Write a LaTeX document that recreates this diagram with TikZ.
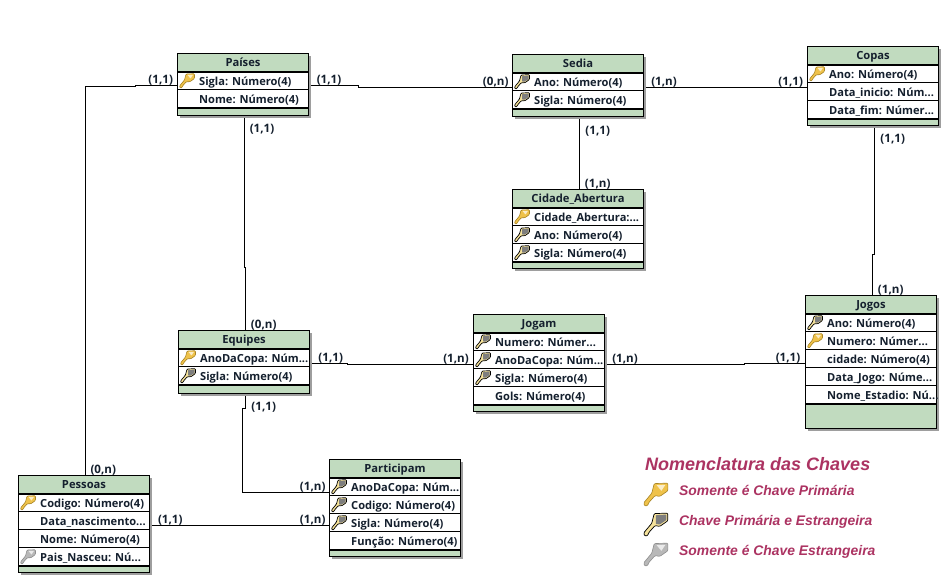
\documentclass[tikz,border=0pt]{standalone}
\usepackage{fontspec}
\setmainfont{Open Sans}
\newfontfamily\legfont{Liberation Sans}
\newcommand\dd{.\kern0pt.\kern0pt.}
\definecolor{hdrgreen}{HTML}{C1DBBF}
\definecolor{inkc}{HTML}{15202E}
\definecolor{legc}{HTML}{AC3362}
\definecolor{goldf}{HTML}{EFC24A}
\definecolor{goldp}{HTML}{F5E29A}
\definecolor{goldl}{HTML}{A88424}
\definecolor{grayf}{HTML}{B8B8B8}
\definecolor{grayl}{HTML}{8E8E8E}
\definecolor{midg}{HTML}{7E7E7E}
\tikzset{
  tablebox/.style={draw=black,line width=1pt,fill=hdrgreen,inner sep=0pt,outer sep=0pt,anchor=north west},
  shadowbox/.style={fill=midg!75,draw=none,inner sep=0pt,outer sep=0pt,anchor=north west},
  titletext/.style={font=\bfseries\fontsize{11.2}{12}\selectfont,text=inkc,anchor=base,inner sep=0pt},
  rowtext/.style={font=\bfseries\fontsize{11.1}{12}\selectfont,text=inkc,anchor=base west,inner sep=0pt},
  cardlabel/.style={font=\bfseries\fontsize{11.6}{12}\selectfont,text=inkc,inner sep=0pt,yshift=-1pt},
  link/.style={draw=black,line width=1pt},
  legtitle/.style={font=\legfont\bfseries\itshape\fontsize{18}{20}\selectfont,text=legc,anchor=west,inner sep=0pt},
  legtext/.style={font=\legfont\bfseries\itshape\fontsize{13.9}{15}\selectfont,text=legc,anchor=base west,inner sep=0pt},
}
% #1 x, #2 y, #3 scale, #4 kind p/b/f/n
\newcommand\keyshape{(7,1)--(15.5,.7)--(15.5,5.5)--(10.5,9)--(7.5,8.5)--(3.5,13)--(3,14.7)--(1,15)--(.5,13)--(5.5,7)--cycle}
\newcommand\keyglyph[4]{%
  \begin{scope}[shift={(#1,#2)},scale=#3]
    \if#4p\relax
      \path[draw=goldl,fill=goldf,line width=.6pt,line join=round,rounded corners=1pt] \keyshape;
      \fill[white!70!goldf] (8.5,2)--(14,1.8)--(11.5,5.5)--cycle;
    \fi
    \if#4b\relax
      \path[draw=black,fill=goldp,line width=.7pt,line join=round,rounded corners=1pt] \keyshape;
      \fill[midg,rounded corners=.6pt] (8,2)--(14.6,1.6)--(14.6,5)--(10.5,7.8)--(8,7.5)--cycle;
    \fi
    \if#4f\relax
      \path[draw=grayl,fill=grayf,line width=.6pt,line join=round,rounded corners=1pt] \keyshape;
      \fill[white!70!grayf] (8.5,2)--(14,1.8)--(11.5,5.5)--cycle;
    \fi
  \end{scope}}
% #1 name, #2 x0, #3 y0, #4 x1, #5 y1, #6 title, #7 nrows, #8 rows
\newcommand\ertable[8]{%
  \pgfmathsetmacro\tw{#4-#2}\pgfmathsetmacro\th{#5-#3}%
  \pgfmathsetmacro\tcx{(#2+#4)/2}\pgfmathsetmacro\hy{#3+18}%
  \node[shadowbox,minimum width=\tw pt,minimum height=\th pt] (#1s) at (#2+2.5,#3+2.5) {};
  \node[tablebox,minimum width=\tw pt,minimum height=\th pt] (#1) at (#2,#3) {};
  \node[titletext] (#1t) at (\tcx,#3+13) {#6};
  \fill[white] (#2+.5,\hy) rectangle (#4-.5,\hy+18*#7);
  \foreach \k/\t [count=\n from 0] in {#8} {
    \pgfmathsetmacro\rt{\hy+18*\n}
    \keyglyph{#2+1.5}{\rt+1.5}{1}{\k}
    \node[rowtext] (#1r\n) at (#2+21.5,\rt+14) {\t};
    \ifnum\n>0 \draw[black,line width=1pt] (#2,\rt) -- (#4,\rt);\fi
  }
  \draw[black,line width=2pt] (#2,\hy+.5) -- (#4,\hy+.5);
  \draw[black,line width=2pt] (#2,\hy+18*#7+.5) -- (#4,\hy+18*#7+.5);
}
\begin{document}
\begin{tikzpicture}[x=1pt,y=-1pt]
\useasboundingbox[fill=white] (0,0) rectangle (946,580);

\ertable{paises}{177.5}{53.5}{308.5}{115.5}{Países}{2}{p/Sigla: Número(4),n/Nome: Número(4)}
\ertable{sedia}{512.5}{54.5}{643.5}{116.5}{Sedia}{2}{b/Ano: Número(4),b/Sigla: Número(4)}
\ertable{copas}{807.5}{46.5}{938.5}{125.5}{Copas}{3}{p/Ano: Número(4),n/Data\_inicio: Núm\dd,n/Data\_fim: Númer\dd}
\ertable{cidade}{512.5}{189.5}{643.5}{268.5}{Cidade\_Abertura}{3}{p/Cidade\_Abertura:\dd,b/Ano: Número(4),b/Sigla: Número(4)}
\ertable{jogos}{805.5}{295.5}{936.5}{428.5}{Jogos}{5}{b/Ano: Número(4),p/Numero: Númer\dd,n/cidade: Número(4),n/Data\_Jogo: Núme\dd,n/Nome\_Estadio: Nú\dd}
\ertable{equipes}{178.5}{330.5}{309.5}{393.5}{Equipes}{2}{p/AnoDaCopa: Núm\dd,b/Sigla: Número(4)}
\ertable{jogam}{473.5}{314.5}{604.5}{411.5}{Jogam}{4}{b/Numero: Númer\dd,b/AnoDaCopa: Núm\dd,b/Sigla: Número(4),n/Gols: Número(4)}
\ertable{participam}{329.5}{459.5}{460.5}{556.5}{Participam}{4}{b/AnoDaCopa: Núm\dd,b/Codigo: Número(4),b/Sigla: Número(4),n/Função: Número(4)}
\ertable{pessoas}{18.5}{475.5}{149.5}{572.5}{Pessoas}{4}{p/Codigo: Número(4),n/Data\_nascimento\dd,n/Nome: Número(4),f/Pais\_Nasceu: Nú\dd}

% connectors
\draw[link] (85.5,0 |- pessoas.north) -- (85.5,86.5) -- (135.5,86.5) -- (135.5,85.5) -- (paises.west |- 0,85.5);
\draw[link] (paisess.east |- 0,85.5) -- (358.5,85.5) -- (358.5,87.5) -- (sedia.west |- 0,87.5);
\draw[link] (sedias.east |- 0,87.5) -- (copas.west |- 0,87.5);
\draw[link] (579.5,0 |- sedias.south) -- (579.5,0 |- cidade.north);
\draw[link] (874.5,0 |- copass.south) -- (874.5,254.5) -- (872.5,254.5) -- (872.5,0 |- jogos.north);
\draw[link] (244.5,0 |- paisess.south) -- (244.5,267.5) -- (245.5,267.5) -- (245.5,0 |- equipes.north);
\draw[link] (equipess.east |- 0,363.5) -- (347.5,363.5) -- (347.5,364.5) -- (jogam.west |- 0,364.5);
\draw[link] (jogams.east |- 0,364.5) -- (744.5,364.5) -- (744.5,363.5) -- (jogos.west |- 0,363.5);
\draw[link] (245.5,0 |- equipess.south) -- (245.5,408.5) -- (242.5,408.5) -- (242.5,492.5) -- (participam.west |- 0,492.5);
\draw[link] (pessoass.east |- 0,525.5) -- (participam.west |- 0,525.5);

% cardinalities
\node[cardlabel] (c1) at (160.7,79) {(1,1)};
\node[cardlabel] (c2) at (329,79) {(1,1)};
\node[cardlabel] (c3) at (262,128) {(1,1)};
\node[cardlabel] (c4) at (495.7,81) {(0,n)};
\node[cardlabel] (c5) at (664,81) {(1,n)};
\node[cardlabel] (c6) at (790.7,81) {(1,1)};
\node[cardlabel] (c7) at (597.7,130) {(1,1)};
\node[cardlabel] (c8) at (597.7,183) {(1,n)};
\node[cardlabel] (c9) at (892.7,138) {(1,1)};
\node[cardlabel] (c10) at (890.7,289.5) {(1,n)};
\node[cardlabel] (c11) at (788,357) {(1,1)};
\node[cardlabel] (c12) at (625,358) {(1,n)};
\node[cardlabel] (c13) at (456,358) {(1,n)};
\node[cardlabel] (c14) at (330.7,357) {(1,1)};
\node[cardlabel] (c15) at (263.7,324.5) {(0,n)};
\node[cardlabel] (c16) at (263.7,406) {(1,1)};
\node[cardlabel] (c17) at (312.7,486) {(1,n)};
\node[cardlabel] (c18) at (312.7,519) {(1,n)};
\node[cardlabel] (c19) at (170.3,519) {(1,1)};
\node[cardlabel] (c20) at (103.3,469.5) {(0,n)};

% legend
\node[legtitle] (lt) at (645,464) {Nomenclatura das Chaves};
\keyglyph{643}{482}{1.6}{p}
\keyglyph{643}{512}{1.6}{b}
\keyglyph{643}{542}{1.6}{f}
\node[legtext] (l1) at (679,495) {Somente é Chave Primária};
\node[legtext] (l2) at (679,525) {Chave Primária e Estrangeira};
\node[legtext] (l3) at (679,555) {Somente é Chave Estrangeira};
\end{tikzpicture}
\end{document}
